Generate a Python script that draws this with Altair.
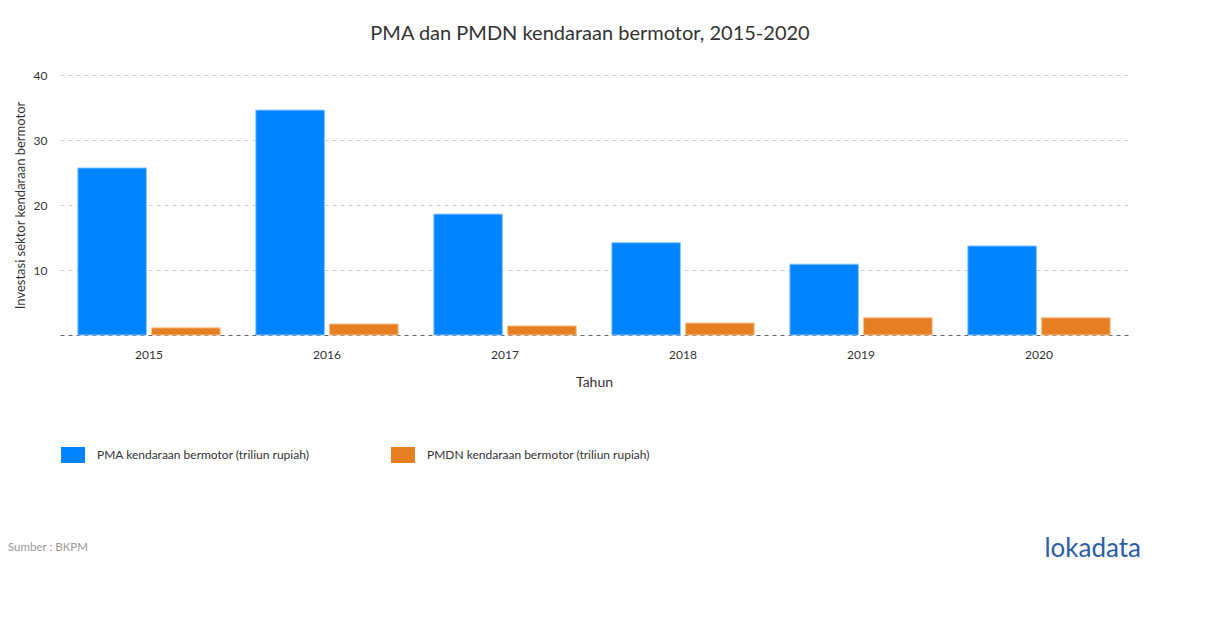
import altair as alt
import pandas as pd

years = ["2015", "2016", "2017", "2018", "2019", "2020"]
pma = [25.7, 34.6, 18.6, 14.2, 10.9, 13.7]
pmdn = [1.1, 1.7, 1.4, 1.85, 2.65, 2.65]
series = ["PMA kendaraan bermotor (triliun rupiah)", "PMDN kendaraan bermotor (triliun rupiah)"]
colors = ["#0084ff", "#e67e22"]
strokes = ["#8cc8ff", "#f7c48f"]

rows = []
for i, y in enumerate(years):
    rows.append({"Tahun": y, "series": series[0], "value": pma[i]})
    rows.append({"Tahun": y, "series": series[1], "value": pmdn[i]})
df = pd.DataFrame(rows)

FONT = "Lato"

bars = alt.Chart(df).mark_bar(strokeWidth=1).encode(
    x=alt.X("Tahun:N", sort=years,
            scale=alt.Scale(paddingInner=0.2, paddingOuter=0.1),
            axis=alt.Axis(title="Tahun", labelAngle=0, domain=False, ticks=False,
                          labelPadding=14, titlePadding=15, labelFontSize=12,
                          titleFontSize=14, titleFontWeight="normal",
                          labelColor="#333", titleColor="#333",
                          labelFont=FONT, titleFont=FONT)),
    xOffset=alt.XOffset("series:N", sort=series,
                        scale=alt.Scale(paddingInner=0.07)),
    y=alt.Y("value:Q", scale=alt.Scale(domain=[0, 40]),
            axis=alt.Axis(title="Investasi sektor kendaraan bermotor", values=[0, 10, 20, 30, 40],
                          labelExpr="datum.value === 0 ? '' : datum.label",
                          domain=False, ticks=False, labelPadding=13,
                          gridDash=[4, 4], gridWidth=1,
                          gridColor={"condition": {"test": "datum.value === 0", "value": "#666"}, "value": "#ccc"},
                          labelFontSize=12, titleFontSize=13, titleFontWeight="normal",
                          labelColor="#333", titleColor="#333", titlePadding=6,
                          labelFont=FONT, titleFont=FONT)),
    color=alt.Color("series:N", sort=series,
                    scale=alt.Scale(domain=series, range=colors),
                    legend=alt.Legend(title=None, orient="none", legendX=5, legendY=372,
                                      direction="horizontal", columns=2,
                                      symbolType="M-1.5,-1H1.5V1H-1.5Z", symbolSize=256,
                                      symbolStrokeWidth=0, symbolOpacity=1,
                                      labelFontSize=12, labelColor="#333", labelFont=FONT,
                                      labelOffset=16, columnPadding=81, labelLimit=400)),
    stroke=alt.Stroke("series:N", sort=series,
                      scale=alt.Scale(domain=series, range=strokes), legend=None),
)

source = alt.Chart(pd.DataFrame({"t": ["Sumber : BKPM"]})).mark_text(
    align="left", baseline="middle", fontSize=11.5, color="#999", font=FONT
).encode(text="t:N", x=alt.value(-52), y=alt.value(473))

logo = alt.Chart(pd.DataFrame({"t": ["lokadata"]})).mark_text(
    align="right", baseline="middle", fontSize=26, color="#2b5ea7", font=FONT
).encode(text="t:N", x=alt.value(1081), y=alt.value(474))

chart = alt.layer(bars, source, logo).properties(
    width=1068, height=260,
    autosize=alt.AutoSizeParams(type="none"),
    padding={"left": 52, "top": 67, "right": 74, "bottom": 270},
    title=alt.Title("PMA dan PMDN kendaraan bermotor, 2015-2020", fontSize=20,
                    fontWeight="normal", color="#333", font=FONT, anchor="middle",
                    offset=25, dx=-4),
).configure_view(stroke=None)

chart.save("out.html", embed_options={"renderer": "svg", "actions": False})
